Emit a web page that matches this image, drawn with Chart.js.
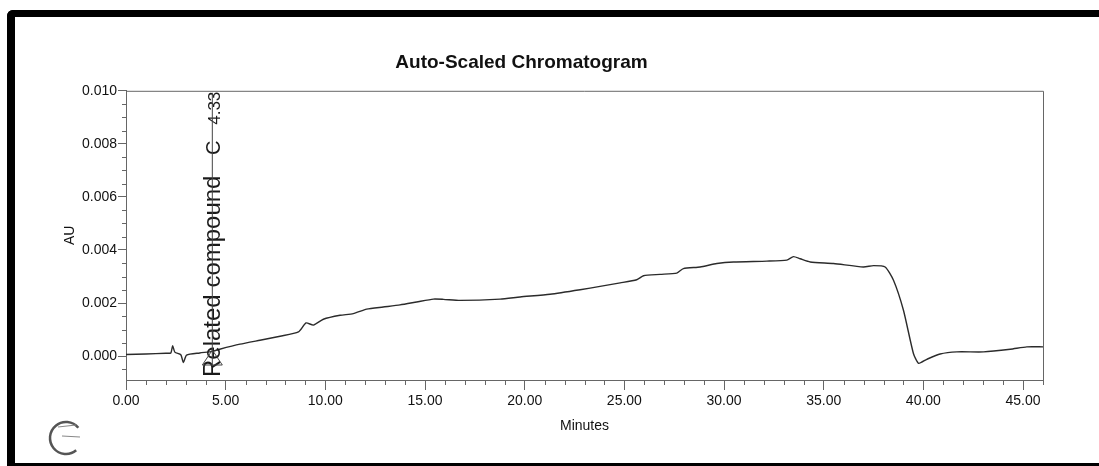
<!DOCTYPE html>
<html>
<head>
<meta charset="utf-8">
<script src="https://cdn.jsdelivr.net/npm/chart.js@4/dist/chart.umd.min.js"></script>
<style>
  html, body { margin: 0; padding: 0; background: #fff; overflow: hidden; }
  #wrap { position: relative; width: 1099px; height: 466px; }
  #frame {
    position: absolute; left: 7px; top: 10px; right: -20px; bottom: 0;
    border-top: 7px solid #000; border-left: 8px solid #000; border-bottom: 3px solid #000;
    border-top-left-radius: 6px; pointer-events: none;
  }
</style>
</head>
<body>
<div id="wrap">
  <canvas id="chrom" width="1099" height="466"></canvas>
  <div id="frame"></div>
</div>
<script>
// retention time (min) and detector response (AU)
const minutes = [
  0.0, 1.0, 2.0, 2.25, 2.34, 2.45, 2.75, 2.88, 3.04, 3.7,
  4.33, 4.7, 5.72, 6.72, 7.73, 8.65, 9.03, 9.4, 9.9, 10.74,
  11.4, 12.07, 12.9, 13.75, 14.58, 15.42, 15.92, 16.76, 18.77, 19.77,
  21.27, 22.78, 23.78, 24.79, 25.62, 25.96, 26.79, 27.63, 27.96, 28.8,
  29.64, 30.47, 32.15, 33.15, 33.48, 33.82, 34.32, 35.49, 36.99, 37.5,
  38.08, 38.5, 39.0, 39.5, 39.76, 40.17, 40.84, 41.68, 43.02, 44.36,
  45.19, 46.0
]
const au = [
  0.00006, 0.00008, 0.00011, 0.00012, 0.00039, 0.00015, 0.00005, -0.00024, 0.00004, 0.00012,
  0.00018, 0.00026, 0.00045, 0.00060, 0.00075, 0.00091, 0.00125, 0.00117, 0.00139, 0.00154,
  0.00160, 0.00177, 0.00185, 0.00193, 0.00204, 0.00215, 0.00214, 0.00210, 0.00215, 0.00223,
  0.00233, 0.00250, 0.00263, 0.00276, 0.00288, 0.00303, 0.00308, 0.00313, 0.00330, 0.00336,
  0.00349, 0.00355, 0.00358, 0.00362, 0.00375, 0.00367, 0.00355, 0.00349, 0.00336, 0.00341,
  0.00336, 0.00286, 0.00173, 0.00010, -0.00027, -0.00012, 0.00008, 0.00016, 0.00016, 0.00026,
  0.00035, 0.00035
]

const xTicks = [0, 5, 10, 15, 20, 25, 30, 35, 40, 45]
const yTicks = [0, 0.002, 0.004, 0.006, 0.008, 0.010]

// integrated peak label
const peakName = 'Related compound'
const peakLetter = 'C'
const peakTime = 4.33

const FONT = "'Liberation Sans', Arial, sans-serif"
const AXIS = '#666'

const boxAndMinorTicks = {
  id: 'boxAndMinorTicks',
  afterDraw (chart) {
    const { ctx, chartArea: a, scales: { x, y } } = chart
    ctx.save()
    ctx.strokeStyle = AXIS
    ctx.lineWidth = 1
    ctx.beginPath()
    ctx.moveTo(a.left, a.top + 0.5)
    ctx.lineTo(a.right + 0.5, a.top + 0.5)
    ctx.lineTo(a.right + 0.5, a.bottom)
    ctx.stroke()
    ctx.beginPath()
    for (let t = 1; t <= x.max; t++) {
      if (t % 5 === 0) continue
      const px = Math.round(x.getPixelForValue(t)) + 0.5
      ctx.moveTo(px, a.bottom)
      ctx.lineTo(px, a.bottom + 5)
    }
    for (let i = -1; i * 0.0005 < y.max; i++) {
      if (i % 4 === 0) continue
      const py = Math.round(y.getPixelForValue(i * 0.0005)) + 0.5
      ctx.moveTo(a.left - 4, py)
      ctx.lineTo(a.left, py)
    }
    ctx.stroke()
    ctx.restore()
  }
}

const peakMarker = {
  id: 'peakMarker',
  afterDatasetsDraw (chart) {
    const { ctx, chartArea: a, scales: { x } } = chart
    const px = x.getPixelForValue(peakTime)
    const base = px + 8
    ctx.save()
    ctx.fillStyle = '#1a1a1a'

    const vtext = (txt, size, y, align) => {
      ctx.save()
      ctx.font = `${size}px ${FONT}`
      ctx.textAlign = align
      ctx.textBaseline = 'alphabetic'
      ctx.translate(base, y)
      ctx.rotate(-Math.PI / 2)
      ctx.fillText(txt, 0, 0)
      ctx.restore()
    }
    vtext(peakName, 24, a.bottom - 3, 'left')
    vtext(peakLetter, 20, a.top + 57, 'center')
    vtext(peakTime.toFixed(2), 17, a.top + 34, 'left')

    ctx.strokeStyle = '#444'
    ctx.lineWidth = 1
    ctx.beginPath()
    ctx.moveTo(px, a.bottom - 15)
    ctx.lineTo(px, a.top + 2)
    ctx.stroke()

    // start/end marker triangle
    ctx.beginPath()
    ctx.moveTo(px, a.bottom - 30)
    ctx.lineTo(px + 10, a.bottom - 15)
    ctx.lineTo(px - 10, a.bottom - 15)
    ctx.closePath()
    ctx.stroke()
    ctx.restore()
  }
}

const cornerMark = {
  id: 'cornerMark',
  afterDraw (chart) {
    const { ctx } = chart
    ctx.save()
    ctx.strokeStyle = '#555'
    ctx.lineWidth = 2.5
    ctx.beginPath()
    ctx.arc(66, 438, 16, 0.28 * Math.PI, 1.78 * Math.PI)
    ctx.stroke()
    ctx.lineWidth = 1.2
    ctx.strokeStyle = '#888'
    ctx.beginPath()
    ctx.moveTo(62, 436)
    ctx.lineTo(80, 437)
    ctx.moveTo(58, 427)
    ctx.lineTo(76, 425)
    ctx.stroke()
    ctx.restore()
  }
}

new Chart(document.getElementById('chrom'), {
  type: 'line',
  data: {
    datasets: [{
      data: minutes.map((t, i) => ({ x: t, y: au[i] })),
      borderColor: '#2b2b2b',
      borderWidth: 1.4,
      pointRadius: 0,
      tension: 0.2,
      fill: false
    }]
  },
  options: {
    responsive: false,
    animation: false,
    events: [],
    layout: { padding: { left: 0, right: 56, top: 0, bottom: 0 } },
    plugins: {
      legend: { display: false },
      tooltip: { enabled: false },
      title: {
        display: true,
        text: 'Auto-Scaled Chromatogram',
        color: '#111',
        font: { family: FONT, size: 19, weight: 'bold' },
        padding: { top: 51, bottom: 17 }
      }
    },
    scales: {
      x: {
        type: 'linear',
        min: 0,
        max: 46,
        afterBuildTicks: s => { s.ticks = xTicks.map(v => ({ value: v })) },
        afterFit: s => { s.height = 86 },
        border: { display: true, color: AXIS, width: 1 },
        grid: { drawOnChartArea: false, drawTicks: true, tickLength: 10, color: AXIS },
        ticks: {
          color: '#111',
          padding: 3,
          maxRotation: 0,
          autoSkip: false,
          font: { family: FONT, size: 14 },
          callback: v => v.toFixed(2)
        },
        title: {
          display: true,
          text: 'Minutes',
          color: '#111',
          font: { family: FONT, size: 14 },
          padding: { top: 0, bottom: 31 }
        }
      },
      y: {
        min: -0.0009,
        max: 0.010,
        afterBuildTicks: s => { s.ticks = yTicks.map(v => ({ value: v })) },
        afterFit: s => { s.width = 126 },
        border: { display: true, color: AXIS, width: 1 },
        grid: { drawOnChartArea: false, drawTicks: true, tickLength: 8, color: AXIS },
        ticks: {
          color: '#111',
          padding: 1,
          autoSkip: false,
          font: { family: FONT, size: 14 },
          callback: v => v.toFixed(3)
        },
        title: {
          display: true,
          text: 'AU',
          color: '#111',
          font: { family: FONT, size: 14 },
          padding: { top: 62, bottom: 0 }
        }
      }
    }
  },
  plugins: [boxAndMinorTicks, peakMarker, cornerMark]
})
</script>
</body>
</html>
